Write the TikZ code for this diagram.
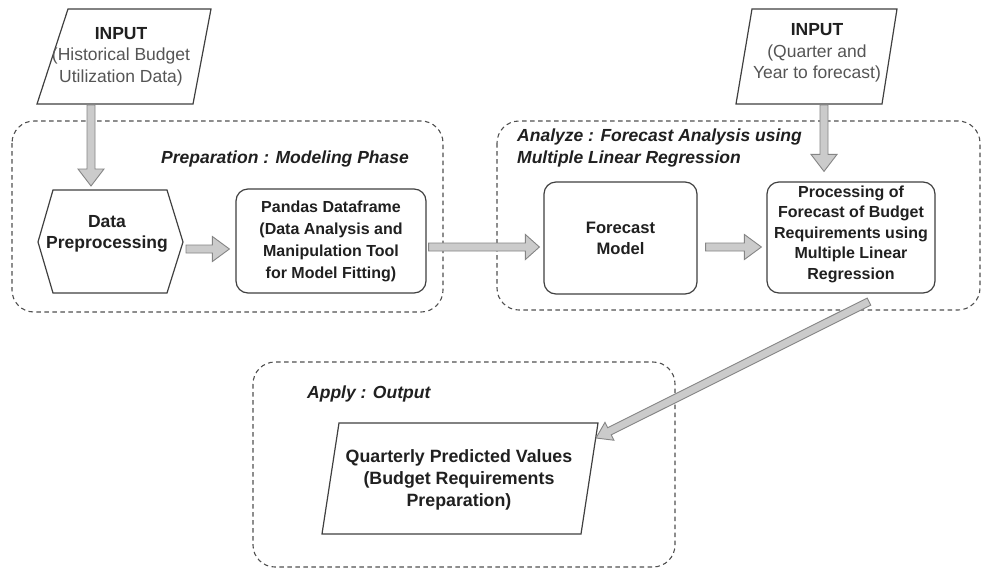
\documentclass[tikz,border=0pt]{standalone}
\usepackage{fontspec}
\setmainfont{Liberation Sans}
\usetikzlibrary{calc}
\definecolor{shapeline}{HTML}{404040}
\definecolor{dashline}{HTML}{505050}
\definecolor{arrfill}{HTML}{CBCBCB}
\definecolor{arrline}{HTML}{858585}
\definecolor{txt}{HTML}{202020}
\definecolor{subtxt}{HTML}{555555}
\newcommand\bigfont{\fontsize{17.5}{21.5}\selectfont}
\newcommand\smallfont{\fontsize{16}{21}\selectfont}
\tikzset{
  shp/.style={draw=shapeline, line width=1.2pt},
  rbox/.style={shp, rounded corners=12pt, inner sep=0pt},
  txtnode/.style={align=center, text=txt, inner sep=0pt},
  grp/.style={draw=dashline, line width=1.1pt, dash pattern=on 4.5pt off 3.5pt, rounded corners=22pt},
  grplabel/.style={font=\bigfont\bfseries\itshape, text=txt, anchor=west, align=left, inner sep=0pt},
}
\newcommand\blockarr[4]{% start, end, head length, head half-width
  \path[draw=arrline, fill=arrfill, line width=0.9pt, line join=miter]
    let \p1=#1, \p2=#2, \n1={atan2(\y2-\y1,\x2-\x1)}, \n2={veclen(\x2-\x1,\y2-\y1)} in
    [shift={(\p1)}, rotate=\n1]
    (0,-4) -- (\n2-#3,-4) -- (\n2-#3,-#4) -- (\n2,0) -- (\n2-#3,#4) -- (\n2-#3,4) -- (0,4) -- cycle;}
\begin{document}
\begin{tikzpicture}[x=1pt,y=-1pt, font=\bigfont]
\useasboundingbox (0,0) rectangle (983,568);
\fill[white] (0,0) rectangle (983,568);

% group boxes
\draw[grp] (12,121) rectangle (443,312);
\draw[grp] (497,121) rectangle (980,310);
\draw[grp] (253,362) rectangle (675,567);
\node[grplabel] (lprep) at (161,159) {Preparation : Modeling Phase};
\node[grplabel] (lana) at (517,148) {Analyze : Forecast Analysis using\\Multiple Linear Regression};
\node[grplabel] (lapp) at (307,394) {Apply : Output};

% input 1
\draw[shp, fill=white] (68,9) -- (211,9) -- (193,104) -- (37,104) -- cycle;
\node[txtnode] (in1) at (121,56.5) {\textbf{INPUT}\\\textcolor{subtxt}{(Historical Budget}\\\textcolor{subtxt}{Utilization Data)}};
\coordinate (in1b) at (91,105);

% input 2
\draw[shp, fill=white] (752,9) -- (897,9) -- (882,104) -- (736,104) -- cycle;
\node[txtnode] (in2) at (817,53) {\textbf{INPUT}\\\textcolor{subtxt}{(Quarter and}\\\textcolor{subtxt}{Year to forecast)}};
\coordinate (in2b) at (824,105);

% data preprocessing hexagon
\draw[shp, fill=white] (53,190) -- (167,190) -- (183,242) -- (167,293) -- (53,293) -- (38,242) -- cycle;
\node[txtnode, font=\bigfont\bfseries] (dp) at (107,234) {Data\\Preprocessing};
\coordinate (dpE) at (186,249);
\coordinate (dpN) at (91,186);

% pandas
\node[rbox, minimum width=190pt, minimum height=104pt] (pd) at (331,241) {};
\node[txtnode, font=\fontsize{16}{22}\selectfont\bfseries] (pdt) at (331,241)
  {Pandas Dataframe\\(Data Analysis and\\Manipulation Tool\\for Model Fitting)};

% forecast model
\node[rbox, minimum width=153pt, minimum height=112pt] (fm) at (620.5,238) {};
\node[txtnode, font=\fontsize{16.6}{21.5}\selectfont\bfseries] (fmt) at (620.5,238.5) {Forecast\\Model};

% processing
\node[rbox, minimum width=168pt, minimum height=111pt] (pr) at (851,237.5) {};
\node[txtnode, font=\fontsize{16}{20.5}\selectfont\bfseries] (prt) at (851,234)
  {Processing of\\Forecast of Budget\\Requirements using\\Multiple Linear\\Regression};

% output parallelogram
\draw[shp, fill=white] (339,423) -- (598,423) -- (581,534) -- (322,534) -- cycle;
\node[txtnode, font=\fontsize{17.8}{22}\selectfont\bfseries] (out) at (459,480) {Quarterly Predicted Values\\(Budget Requirements\\Preparation)};
\coordinate (outE) at (596,438);

% arrows
\blockarr{(in1b)}{(dpN)}{17}{13}
\blockarr{(in2b)}{($(pr.north)+(-27,-10)$)}{17}{13}
\blockarr{(dpE)}{($(pd.west)+(-6,8)$)}{17}{12.5}
\blockarr{($(pd.east)+(2,6)$)}{($(fm.west)+(-4,9)$)}{14}{12.5}
\blockarr{($(fm.east)+(8,9)$)}{($(pr.west)+(-5,9.5)$)}{17}{12.5}
\blockarr{($(pr.south)+(18,8)$)}{(outE)}{15}{10}
\end{tikzpicture}
\end{document}
